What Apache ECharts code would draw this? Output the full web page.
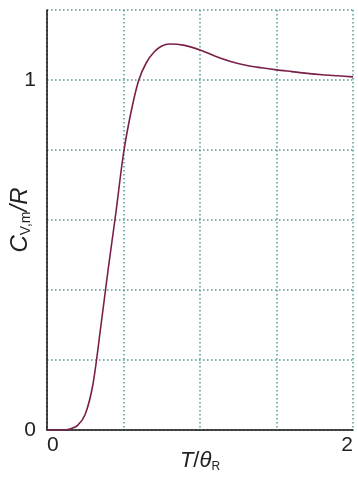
<!DOCTYPE html>
<html>
<head>
<meta charset="utf-8">
<script src="https://cdn.jsdelivr.net/npm/echarts@6/dist/echarts.min.js"></script>
<style>
  html, body { margin: 0; padding: 0; background: #fff; }
  #chart { width: 358px; height: 478px; }
</style>
</head>
<body>
<div id="chart"></div>
<script>
// T / theta_R values and the heat capacity
var tempRatio = [0, 0.05, 0.1, 0.15, 0.2, 0.25, 0.3, 0.35, 0.4, 0.45, 0.5, 0.55, 0.6, 0.65, 0.7, 0.75, 0.8, 0.9, 1.0, 1.1, 1.2, 1.3, 1.4, 1.5, 1.6, 1.7, 1.8, 1.9, 2.0];
var heatCap   = [0, 0, 0, 0.003, 0.013, 0.045, 0.13, 0.29, 0.46, 0.62, 0.79, 0.91, 1.0, 1.05, 1.08, 1.097, 1.103, 1.099, 1.086, 1.068, 1.053, 1.042, 1.035, 1.029, 1.024, 1.019, 1.015, 1.012, 1.009];
var xShown = [0, 2];   // only these x ticks get a label
var yShown = [0, 1];   // only these y ticks get a label

var points = tempRatio.map(function (t, i) { return [t, heatCap[i]]; });

var gridLine = { show: true, lineStyle: { color: '#4c9e9c', width: 1.5, type: [1.5, 2.5] } };
var font = 'Liberation Sans, Arial, sans-serif';

var chart = echarts.init(document.getElementById('chart'));
chart.setOption({
  animation: false,
  backgroundColor: '#fff',
  grid: { left: 47, right: 5, top: 10, bottom: 48, outerBoundsMode: 'none', containLabel: false },
  xAxis: {
    type: 'value', min: 0, max: 2, interval: 0.5,
    axisLine: { lineStyle: { color: '#111', width: 1.5 } },
    axisTick: { show: false },
    splitLine: gridLine,
    axisLabel: {
      color: '#222', fontSize: 21, fontFamily: font, margin: 5,
      alignMinLabel: 'left', alignMaxLabel: 'right',
      formatter: function (v) { return xShown.some(function (s) { return Math.abs(s - v) < 1e-9; }) ? String(Math.round(v)) : ''; }
    },
    name: '{it|T}{n|/}{it|θ}{sub|R}',
    nameLocation: 'middle', nameGap: 19, nameMoveOverlap: false,
    nameTextStyle: {
      rich: {
        it: { fontSize: 22, fontStyle: 'italic', fontFamily: font, color: '#222', lineHeight: 24 },
        n: { fontSize: 22, fontFamily: font, color: '#222', lineHeight: 24 },
        sub: { fontSize: 12, fontFamily: font, color: '#222', lineHeight: 10, verticalAlign: 'bottom' }
      }
    }
  },
  yAxis: {
    type: 'value', min: 0, max: 1.2, interval: 0.2,
    axisLine: { show: true, lineStyle: { color: '#111', width: 1.5 } },
    axisTick: { show: false },
    splitLine: gridLine,
    axisLabel: {
      color: '#222', fontSize: 21, fontFamily: font, margin: 11,
      formatter: function (v) { return yShown.some(function (s) { return Math.abs(s - v) < 1e-9; }) ? String(Math.round(v)) : ''; }
    },
    name: '{it|C}{sub|V,m}{it|/R}',
    nameLocation: 'middle', nameGap: 14, nameRotate: 90, nameMoveOverlap: false,
    nameTextStyle: {
      rich: {
        it: { fontSize: 24, fontStyle: 'italic', fontFamily: font, color: '#222', lineHeight: 26 },
        sub: { fontSize: 14, fontFamily: font, color: '#222', lineHeight: 12, verticalAlign: 'bottom' }
      }
    }
  },
  series: [{
    type: 'line',
    data: points,
    smooth: 0.3,
    showSymbol: false,
    lineStyle: { color: '#7a1f4a', width: 1.6 }
  }]
});
</script>
</body>
</html>
